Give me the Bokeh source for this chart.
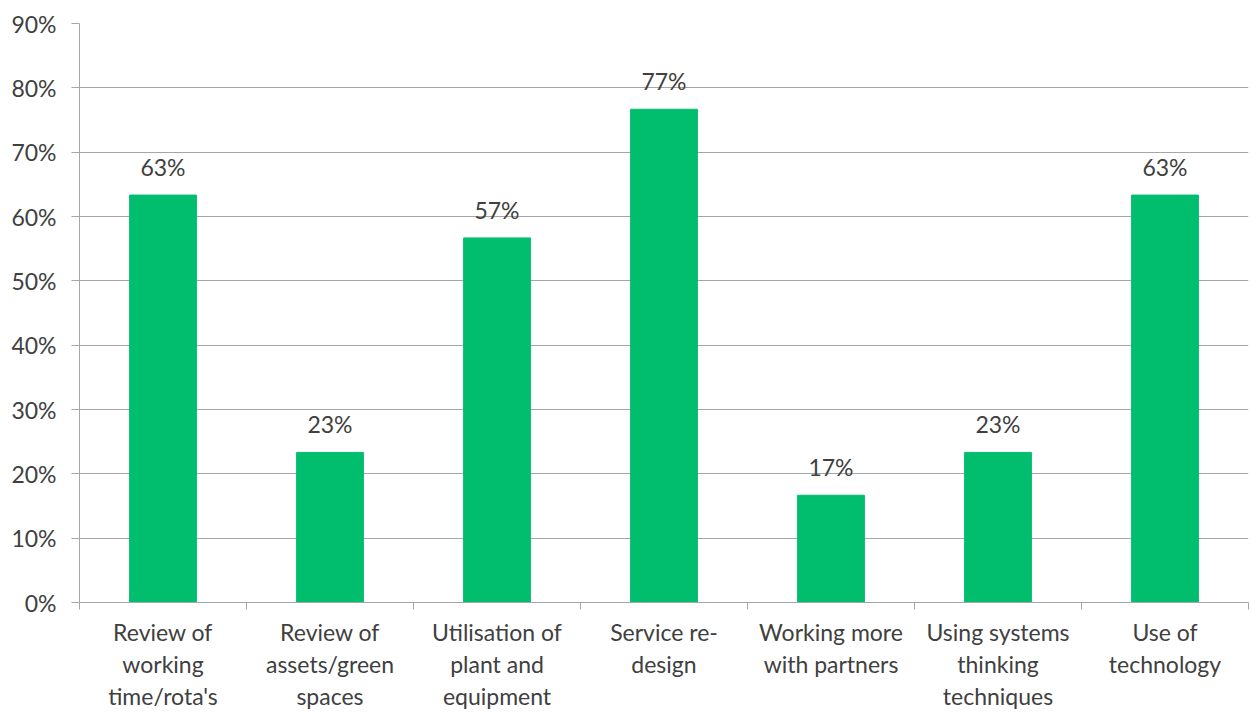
from bokeh.plotting import figure
from bokeh.models import FixedTicker, NumeralTickFormatter, ColumnDataSource, Range1d
from bokeh.core.properties import value
from bokeh.embed import file_html
from bokeh.resources import INLINE

categories = ["Review of\nworking\ntime/rota's", "Review of\nassets/green\nspaces",
              "Utilisation of\nplant and\nequipment", "Service re-\ndesign",
              "Working more\nwith partners", "Using systems\nthinking\ntechniques",
              "Use of\ntechnology"]
values = [0.6333, 0.2333, 0.5667, 0.7667, 0.1667, 0.2333, 0.6333]
y_ticks = [0.0, 0.1, 0.2, 0.3, 0.4, 0.5, 0.6, 0.7, 0.8, 0.9]

FONT = "Lato"
TXT = "#404040"
GRID = "#a6a6a6"
FS = "23px"

xs = [i + 0.5 for i in range(len(categories))]
src = ColumnDataSource(dict(x=xs, top=values,
                            lab=[f"{round(v*100):d}%" for v in values]))

p = figure(width=1250, height=715, output_backend="svg", toolbar_location=None,
           x_range=Range1d(0, len(categories)), y_range=Range1d(0, 0.9),
           min_border_left=79, min_border_right=2, min_border_top=23, min_border_bottom=113)
p.outline_line_color = None
p.background_fill_color = "white"

p.vbar(x="x", top="top", width=0.4, source=src, color="#00BE6E")
p.text(x="x", y="top", text="lab", source=src, text_align="center", text_baseline="bottom",
       y_offset=-14, text_font=value(FONT), text_font_size=FS, text_color=TXT)

p.xaxis.ticker = FixedTicker(ticks=xs, minor_ticks=list(range(len(categories) + 1)))
p.xaxis.major_label_overrides = {x: c for x, c in zip(xs, categories)}
p.xaxis.major_tick_out = 0
p.xaxis.major_tick_in = 0
p.xaxis.minor_tick_out = 7
p.xaxis.minor_tick_in = 0
p.xaxis.minor_tick_line_color = GRID
p.xaxis.axis_line_color = GRID
p.xaxis.major_label_text_font = FONT
p.xaxis.major_label_text_font_size = FS
p.xaxis.major_label_text_color = TXT
p.xaxis.major_label_text_line_height = 1.16
p.xaxis.major_label_standoff = 8

p.yaxis.ticker = FixedTicker(ticks=y_ticks, minor_ticks=[])
p.yaxis.formatter = NumeralTickFormatter(format="0%")
p.yaxis.major_tick_out = 8
p.yaxis.major_tick_in = 0
p.yaxis.major_tick_line_color = GRID
p.yaxis.axis_line_color = GRID
p.yaxis.major_label_text_font = FONT
p.yaxis.major_label_text_font_size = FS
p.yaxis.major_label_text_color = TXT
p.yaxis.major_label_standoff = 15

p.xgrid.grid_line_color = None
p.ygrid.grid_line_color = GRID
p.ygrid.ticker = FixedTicker(ticks=y_ticks)

open("out.html", "w").write(file_html(p, INLINE))
